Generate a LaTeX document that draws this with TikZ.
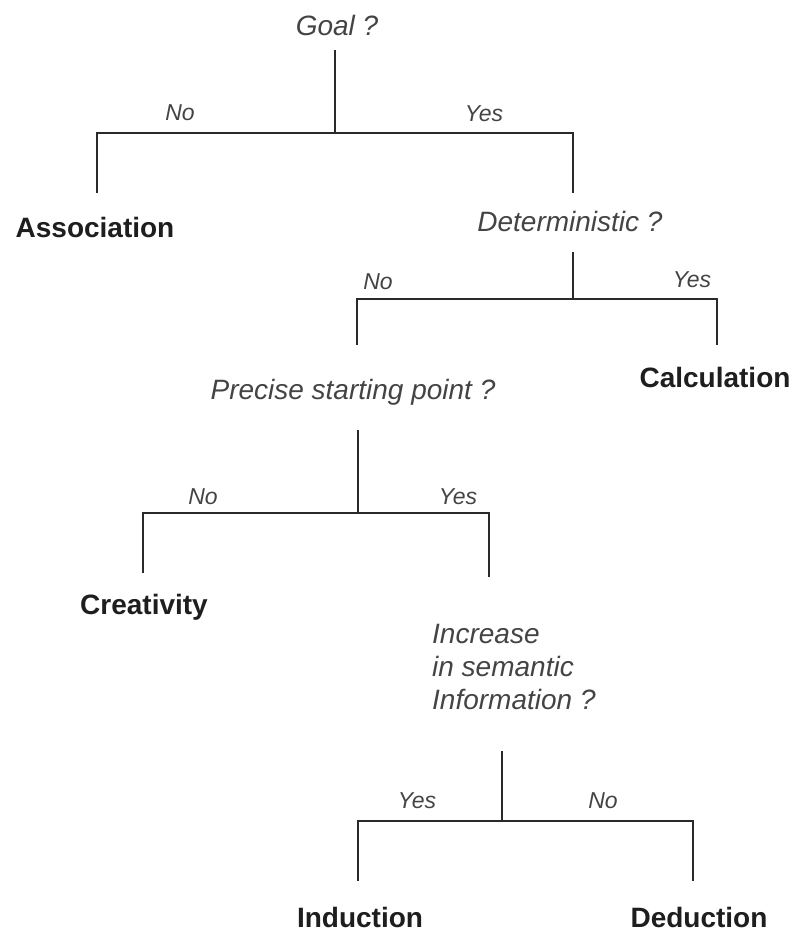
\documentclass[tikz,border=0pt]{standalone}
\usepackage{fontspec}
\setmainfont{Liberation Sans}
\definecolor{qcol}{HTML}{444444}
\definecolor{lcol}{HTML}{2A2A2A}
\definecolor{rcol}{HTML}{1E1E1E}
\begin{document}
\begin{tikzpicture}[x=1pt,y=-1pt,
  question/.style={inner sep=0pt,anchor=base,font=\fontsize{28}{33}\selectfont\itshape,text=qcol},
  result/.style={inner sep=0pt,anchor=base,font=\fontsize{28}{33}\selectfont\bfseries,text=rcol},
  lbl/.style={inner sep=0pt,anchor=base,font=\fontsize{23}{27}\selectfont\itshape,text=qcol},
  wire/.style={draw=lcol,line width=2pt,line cap=butt,line join=miter}]
\useasboundingbox (0,0) rectangle (797,933);
% questions
\node[question] (goal) at (337,36) {Goal ?};
\node[question] (det) at (570,232) {Deterministic ?};
\node[question] (prec) at (353,399) {Precise starting point ?};
\node[question,anchor=base west,align=left] (incr) at (432,709) {Increase\\in semantic\\Information ?};
% results
\node[result] (assoc) at (95,237) {Association};
\node[result] (calc) at (715,387) {Calculation};
\node[result] (creat) at (144,614) {Creativity};
\node[result] (induc) at (360,927) {Induction};
\node[result] (deduc) at (699,927) {Deduction};
% labels
\node[lbl] (l1) at (180,121) {No};
\node[lbl] (l2) at (484,122) {Yes};
\node[lbl] (l3) at (378,289) {No};
\node[lbl] (l4) at (692,287) {Yes};
\node[lbl] (l5) at (203,504) {No};
\node[lbl] (l6) at (458,504) {Yes};
\node[lbl] (l7) at (417,808) {Yes};
\node[lbl] (l8) at (603,808) {No};
% junction coordinates
\coordinate (g0) at (335,50);  \coordinate (gj) at (335,133);
\coordinate (gL) at (97,133);  \coordinate (gLe) at (97,193);
\coordinate (gR) at (573,133); \coordinate (gRe) at (573,193);
\coordinate (d0) at (573,252); \coordinate (dj) at (573,299);
\coordinate (dL) at (357,299); \coordinate (dLe) at (357,345);
\coordinate (dR) at (717,299); \coordinate (dRe) at (717,345);
\coordinate (p0) at (358,430); \coordinate (pj) at (358,513);
\coordinate (pL) at (143,513); \coordinate (pLe) at (143,573);
\coordinate (pR) at (489,513); \coordinate (pRe) at (489,577);
\coordinate (i0) at (502,751); \coordinate (ij) at (502,821);
\coordinate (iL) at (358,821); \coordinate (iLe) at (358,881);
\coordinate (iR) at (693,821); \coordinate (iRe) at (693,881);
% connectors
\draw[wire] (g0) -- (gj);
\draw[wire] (gLe) -- (gL) -- (gR) -- (gRe);
\draw[wire] (d0) -- (dj);
\draw[wire] (dLe) -- (dL) -- (dR) -- (dRe);
\draw[wire] (p0) -- (pj);
\draw[wire] (pLe) -- (pL) -- (pR) -- (pRe);
\draw[wire] (i0) -- (ij);
\draw[wire] (iLe) -- (iL) -- (iR) -- (iRe);
\end{tikzpicture}
\end{document}
